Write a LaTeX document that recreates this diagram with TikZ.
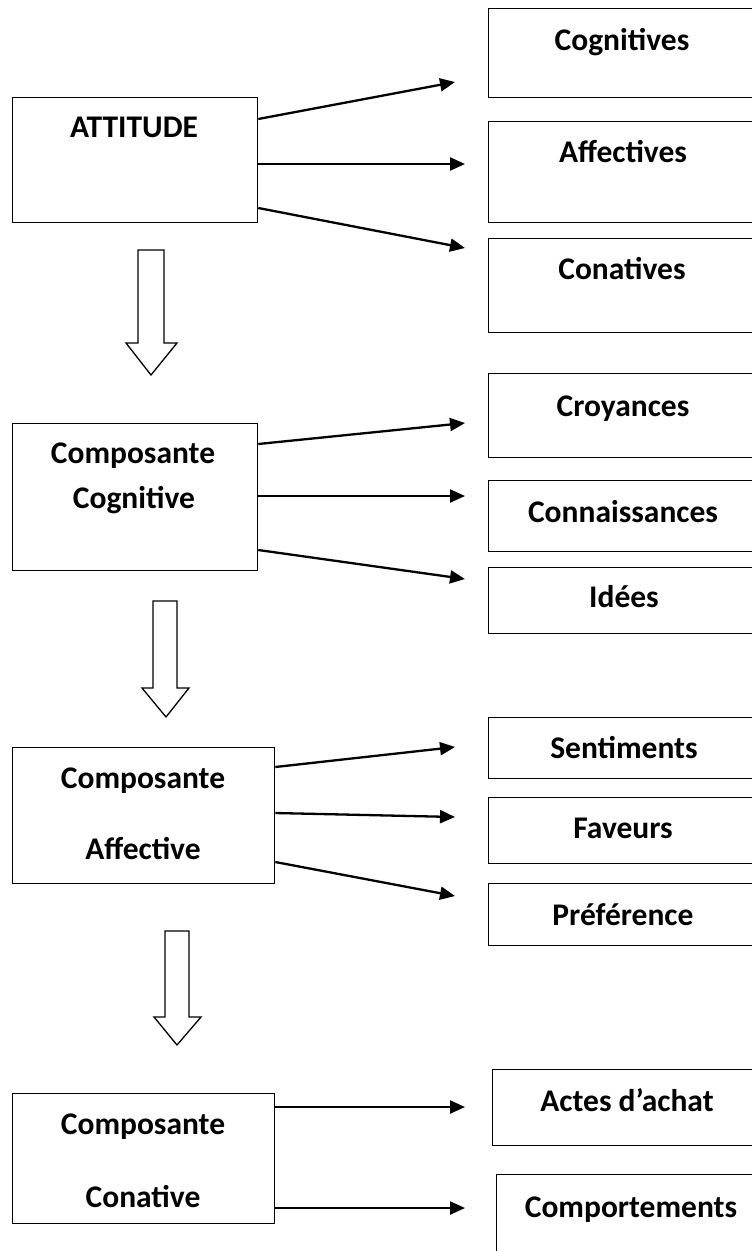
\documentclass[tikz,border=0pt]{standalone}
\usepackage{fontspec}
\setmainfont{Carlito}
\usetikzlibrary{arrows.meta}
\tikzset{
  box/.style={draw=black, line width=1.3pt, inner sep=0pt, anchor=north west, fill=white},
  lbl/.style={font=\fontsize{31.5}{36}\selectfont\bfseries, anchor=base, inner sep=0pt},
  conn/.style={line width=2.3pt, -{Triangle[length=15pt,width=13pt]}},
  hollow/.style={draw=black, line width=1.3pt, fill=white, line join=miter}
}
\begin{document}
\begin{tikzpicture}[x=1pt,y=-1pt]
\clip (0,0) rectangle (752,1251);
\fill[white] (0,0) rectangle (752,1251);
% left boxes
\node[box, minimum width=245pt, minimum height=125pt] (att) at (12,97) {};
\node[box, minimum width=245pt, minimum height=147pt] (cc) at (12,423) {};
\node[box, minimum width=262pt, minimum height=136pt] (ca) at (12,747) {};
\node[box, minimum width=262pt, minimum height=130pt] (ccon) at (12,1093) {};
% right boxes
\node[box, minimum width=272pt, minimum height=89pt] (cog) at (488,8) {};
\node[box, minimum width=272pt, minimum height=101pt] (aff) at (488,121) {};
\node[box, minimum width=272pt, minimum height=94pt] (con) at (488,238) {};
\node[box, minimum width=272pt, minimum height=84pt] (croy) at (488,373) {};
\node[box, minimum width=272pt, minimum height=71pt] (conn) at (488,480) {};
\node[box, minimum width=272pt, minimum height=66pt] (idees) at (488,567) {};
\node[box, minimum width=272pt, minimum height=61pt] (sent) at (488,717) {};
\node[box, minimum width=272pt, minimum height=66pt] (fav) at (488,797) {};
\node[box, minimum width=272pt, minimum height=62pt] (pref) at (488,883) {};
\node[box, minimum width=268pt, minimum height=76pt] (actes) at (492,1069) {};
\node[box, minimum width=264pt, minimum height=96pt] (comp) at (496,1174) {};
% texts
\node[lbl] (tatt) at (134,137) {ATTITUDE};
\node[lbl] (tcc1) at (133,463) {Composante};
\node[lbl] (tcc2) at (134,508) {Cognitive};
\node[lbl] (tca1) at (143,788) {Composante};
\node[lbl] (tca2) at (143,859) {Affective};
\node[lbl] (tco1) at (143,1134) {Composante};
\node[lbl] (tco2) at (143,1207) {Conative};
\node[lbl] (tcog) at (622,50) {Cognitives};
\node[lbl] (taff) at (623,162) {Affectives};
\node[lbl] (tcon) at (622,279) {Conatives};
\node[lbl] (tcroy) at (623,416) {Croyances};
\node[lbl] (tconn) at (623,522) {Connaissances};
\node[lbl] (tid) at (624,607) {Idées};
\node[lbl] (tsent) at (624,758) {Sentiments};
\node[lbl] (tfav) at (623,838) {Faveurs};
\node[lbl] (tpref) at (623,925) {Préférence};
\node[lbl] (tact) at (627,1111) {Actes d’achat};
\node[lbl] (tcomp) at (631,1217) {Comportements};
% arrow ends
\coordinate (e1) at (455,82);
\coordinate (e2) at (465,164);
\coordinate (e3) at (465,248);
\coordinate (f1) at (465,423);
\coordinate (f2) at (465,496);
\coordinate (f3) at (465,579);
\coordinate (g1) at (455,747);
\coordinate (g2) at (455,817);
\coordinate (g3) at (455,896);
\coordinate (h1) at (465,1107);
\coordinate (h2) at (465,1208);
% connectors
\draw[conn] ([yshift=-22pt]att.north east) -- (e1);
\draw[conn] ([yshift=-67pt]att.north east) -- (e2);
\draw[conn] ([yshift=-111pt]att.north east) -- (e3);
\draw[conn] ([yshift=-21pt]cc.north east) -- (f1);
\draw[conn] ([yshift=-73pt]cc.north east) -- (f2);
\draw[conn] ([yshift=-127pt]cc.north east) -- (f3);
\draw[conn] ([yshift=-20pt]ca.north east) -- (g1);
\draw[conn] ([yshift=-66pt]ca.north east) -- (g2);
\draw[conn] ([yshift=-115pt]ca.north east) -- (g3);
\draw[conn] ([yshift=-14pt]ccon.north east) -- (h1);
\draw[conn] ([yshift=-115pt]ccon.north east) -- (h2);
% hollow arrows
\draw[hollow] (138,250) -- (164,250) -- (164,343) -- (177,343) -- (151,375) -- (126,343) -- (138,343) -- cycle;
\draw[hollow] (153,601) -- (177,601) -- (177,688) -- (189,688) -- (166,717) -- (142,688) -- (153,688) -- cycle;
\draw[hollow] (165,931) -- (189,931) -- (189,1017) -- (201,1017) -- (177,1045) -- (154,1017) -- (165,1017) -- cycle;
\end{tikzpicture}
\end{document}
